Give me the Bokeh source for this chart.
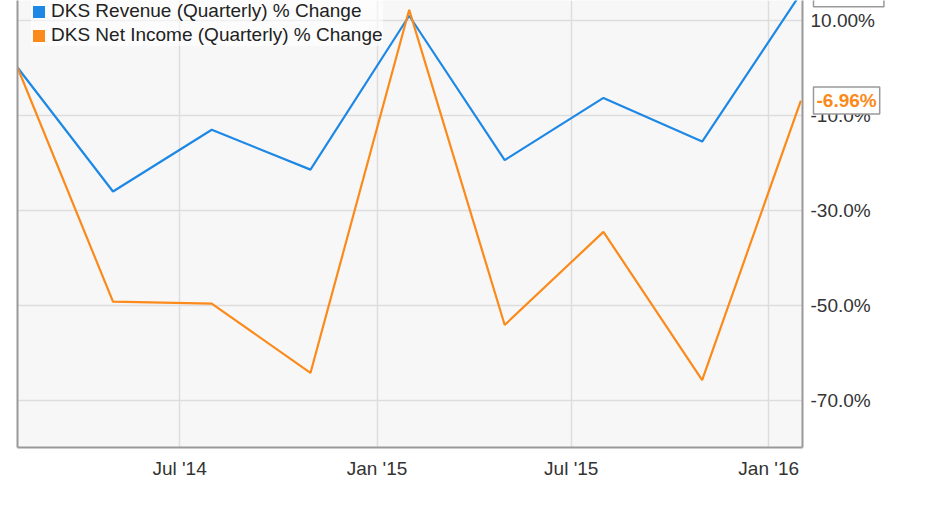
import datetime as dt
from bokeh.plotting import figure
from bokeh.layouts import row
from bokeh.core.properties import value
from bokeh.models import (Range1d, FixedTicker, LinearAxis, Legend, LegendItem,
                          ColumnDataSource, DatetimeTickFormatter)
from bokeh.embed import file_html
from bokeh.resources import INLINE

# ---- data ----
dates = ["2014-01-31", "2014-04-30", "2014-07-31", "2014-10-31", "2015-01-31",
         "2015-04-30", "2015-07-31", "2015-10-31", "2016-01-31"]
revenue_pct = [0.0, -26.1, -13.1, -21.5, 10.9, -19.5, -6.4, -15.6, 15.63]
net_income_pct = [0.0, -49.3, -49.7, -64.3, 12.15, -54.2, -34.6, -65.8, -6.96]
series_names = ["DKS Revenue (Quarterly) % Change",
                "DKS Net Income (Quarterly) % Change"]
end_labels = ["15.63%", "-6.96%"]
x_tick_dates = ["2014-07-01", "2015-01-01", "2015-07-01", "2016-01-01"]
x_tick_labels = ["Jul '14", "Jan '15", "Jul '15", "Jan '16"]
y_ticks = [10, -10, -30, -50, -70]
y_tick_labels = ["10.00%", "-10.0%", "-30.0%", "-50.0%", "-70.0%"]

BLUE = "#1e88e5"
ORANGE = "#fb8a1a"
FONT = "Liberation Sans"
NAN = float("nan")


def to_dt(s):
    return dt.datetime.strptime(s, "%Y-%m-%d")


def to_ms(d):
    return int((d - dt.datetime(1970, 1, 1)).total_seconds() * 1000)


xs = [to_dt(d) for d in dates]
src = ColumnDataSource(dict(x=xs, rev=revenue_pct, ni=net_income_pct))
y_range = Range1d(-80, 14.11)

# ---------------- main plot ----------------
p = figure(width=804, height=490, x_axis_type="datetime", y_axis_location="right",
           output_backend="svg", toolbar_location=None,
           x_range=Range1d(dt.datetime(2014, 1, 31), dt.datetime(2016, 2, 1, 12)),
           y_range=y_range,
           min_border_left=17, min_border_top=0, min_border_right=2,
           min_border_bottom=43)
p.background_fill_color = "#f7f7f7"
p.border_fill_color = "white"
p.outline_line_color = None

p.xgrid.grid_line_color = "#dddddd"
p.xgrid.grid_line_width = 1.5
p.ygrid.ticker = FixedTicker(ticks=y_ticks)
p.ygrid.grid_line_color = "#dddddd"
p.ygrid.grid_line_width = 1.5

# right frame line (value labels are drawn in the side panel)
ya = p.yaxis[0]
ya.ticker = FixedTicker(ticks=[])
ya.axis_line_color = "#999999"
ya.axis_line_width = 2
ya.major_tick_line_color = None
ya.minor_tick_line_color = None
ya.major_tick_out = 0
ya.major_tick_in = 0
ya.major_label_standoff = 0

# bottom (date) axis
xa = p.xaxis[0]
tick_ms = [to_ms(to_dt(d)) for d in x_tick_dates]
xa.ticker = FixedTicker(ticks=tick_ms)
xa.formatter = DatetimeTickFormatter(days="%b '%y", months="%b '%y", years="%b '%y")
xa.major_label_overrides = {t: l for t, l in zip(tick_ms, x_tick_labels)}
xa.axis_line_color = "#999999"
xa.axis_line_width = 2
xa.major_tick_line_color = None
xa.minor_tick_line_color = None
xa.major_tick_out = 0
xa.major_tick_in = 0
xa.major_label_standoff = 10
xa.major_label_text_font = FONT
xa.major_label_text_font_size = "19px"
xa.major_label_text_color = "#333333"

# left frame line
la = LinearAxis(ticker=FixedTicker(ticks=[]), axis_line_color="#999999",
                axis_line_width=2, major_tick_line_color=None,
                minor_tick_line_color=None,
                major_label_standoff=0, major_tick_out=0, major_tick_in=0)
p.add_layout(la, "left")

# series
r_rev = p.line("x", "rev", source=src, line_color=BLUE, line_width=2.2)
r_ni = p.line("x", "ni", source=src, line_color=ORANGE, line_width=2.2)

# square swatches for legend (not drawn in the plot: NaN coordinates)
sw_src = ColumnDataSource(dict(l=[NAN], r=[NAN], t=[NAN], b=[NAN]))
sw_rev = p.quad(left="l", right="r", top="t", bottom="b", source=sw_src,
                fill_color=BLUE, line_color=None)
sw_ni = p.quad(left="l", right="r", top="t", bottom="b", source=sw_src,
               fill_color=ORANGE, line_color=None)

legend = Legend(items=[LegendItem(label=series_names[0], renderers=[sw_rev]),
                       LegendItem(label=series_names[1], renderers=[sw_ni])],
                location=(14, 447 - 46), orientation="vertical",
                glyph_width=15, glyph_height=15, label_standoff=5,
                label_height=19, spacing=2, padding=3, margin=0,
                label_text_font=FONT, label_text_font_size="19px",
                label_text_color="#222222",
                background_fill_color="white", background_fill_alpha=0.6,
                border_line_color=None)
p.add_layout(legend)

# ---------------- side panel: value labels ----------------
s = figure(width=111, height=490, output_backend="svg", toolbar_location=None,
           x_range=Range1d(0, 1), y_range=y_range,
           x_axis_location=None, y_axis_location=None,
           min_border_left=0, min_border_right=0, min_border_top=0,
           min_border_bottom=43)
s.background_fill_color = "white"
s.border_fill_color = "white"
s.outline_line_color = None
s.grid.visible = False

tick_src = ColumnDataSource(dict(x=[0] * len(y_ticks), y=y_ticks, t=y_tick_labels))
s.text("x", "y", text="t", source=tick_src, x_offset=6,
       text_align="left", text_baseline="middle",
       text_font=value(FONT), text_font_size=value("19px"),
       text_color="#333333")

end_src = ColumnDataSource(dict(x=[0, 0], y=[revenue_pct[-1], net_income_pct[-1]],
                                t=end_labels, c=[BLUE, ORANGE]))
s.text("x", "y", text="t", source=end_src, x_offset=9,
       text_align="left", text_baseline="middle",
       text_font=value(FONT), text_font_size=value("19px"),
       text_font_style="bold",
       text_color="c", background_fill_color="white",
       border_line_color="#999999", border_line_width=1.5, padding=3)

layout = row(p, s, spacing=0)
open("out.html", "w").write(file_html(layout, INLINE))
